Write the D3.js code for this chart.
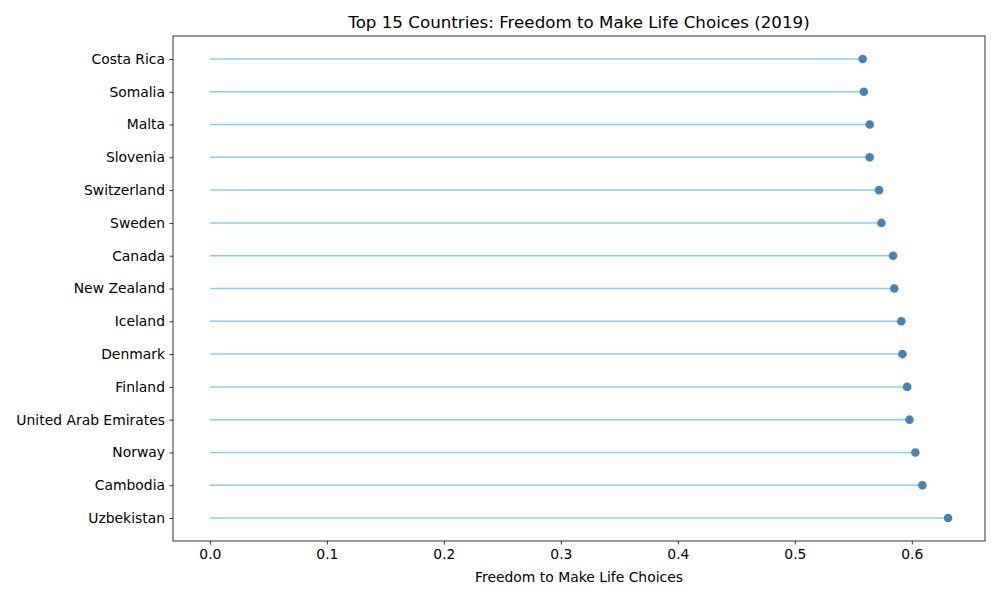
<!DOCTYPE html>
<html>
<head>
<meta charset="utf-8">
<script src="https://cdn.jsdelivr.net/npm/d3@7"></script>
<style>
  body { margin: 0; background: #fff; }
  svg { font-family: "DejaVu Sans", sans-serif; }
</style>
</head>
<body>
<script>
// Data, bottom row first (as plotted)
const countries = ["Uzbekistan", "Cambodia", "Norway", "United Arab Emirates", "Finland",
  "Denmark", "Iceland", "New Zealand", "Canada", "Sweden", "Switzerland",
  "Slovenia", "Malta", "Somalia", "Costa Rica"];
const freedom = [0.631, 0.609, 0.603, 0.598, 0.596, 0.592, 0.591, 0.585, 0.584,
  0.574, 0.572, 0.564, 0.564, 0.559, 0.558];
const xTicks = [0.0, 0.1, 0.2, 0.3, 0.4, 0.5, 0.6];

const width = 1000, height = 600;
const margin = {top: 36, right: 15, bottom: 59, left: 173};
const iw = width - margin.left - margin.right;
const ih = height - margin.top - margin.bottom;

const svg = d3.select("body").append("svg")
    .attr("width", width)
    .attr("height", height);

const g = svg.append("g")
    .attr("transform", `translate(${margin.left},${margin.top})`);

// matplotlib-style 5% padding
const xmax = d3.max(freedom);
const pad = xmax * 0.05;
const x = d3.scaleLinear().domain([-pad, xmax + pad]).range([0, iw]);
const n = countries.length;
const y = d3.scaleLinear().domain([-0.7, n - 1 + 0.7]).range([ih, 0]);

// stems
g.append("g").selectAll("line")
  .data(freedom)
  .join("line")
    .attr("x1", x(0))
    .attr("x2", d => x(d))
    .attr("y1", (d, i) => y(i))
    .attr("y2", (d, i) => y(i))
    .attr("stroke", "skyblue")
    .attr("stroke-width", 1.5);

// dots
g.append("g").selectAll("circle")
  .data(freedom)
  .join("circle")
    .attr("cx", d => x(d))
    .attr("cy", (d, i) => y(i))
    .attr("r", 4.3)
    .attr("fill", "steelblue");

// axes
const xAxis = d3.axisBottom(x).tickValues(xTicks).tickFormat(d3.format(".1f"))
    .tickSizeOuter(0).tickSize(3.5).tickPadding(4.5);
const yAxis = d3.axisLeft(y).tickValues(d3.range(n)).tickFormat(i => countries[i])
    .tickSizeOuter(0).tickSize(3.5).tickPadding(4.5);

const gx = g.append("g").attr("transform", `translate(0,${ih})`).call(xAxis);
const gy = g.append("g").call(yAxis);
[gx, gy].forEach(a => {
  a.select(".domain").remove();
  a.selectAll("text").attr("font-size", 13.9).attr("fill", "#000")
    .attr("font-family", "DejaVu Sans, sans-serif");
  a.selectAll("line").attr("stroke", "#000").attr("stroke-width", 0.8);
});

// frame
g.append("rect")
    .attr("width", iw).attr("height", ih)
    .attr("fill", "none").attr("stroke", "#000").attr("stroke-width", 0.8);

// labels
svg.append("text")
    .attr("x", margin.left + iw / 2).attr("y", 582)
    .attr("text-anchor", "middle").attr("font-size", 13.9)
    .text("Freedom to Make Life Choices");

svg.append("text")
    .attr("x", margin.left + iw / 2).attr("y", 28)
    .attr("text-anchor", "middle").attr("font-size", 16.7)
    .text("Top 15 Countries: Freedom to Make Life Choices (2019)");
</script>
</body>
</html>
